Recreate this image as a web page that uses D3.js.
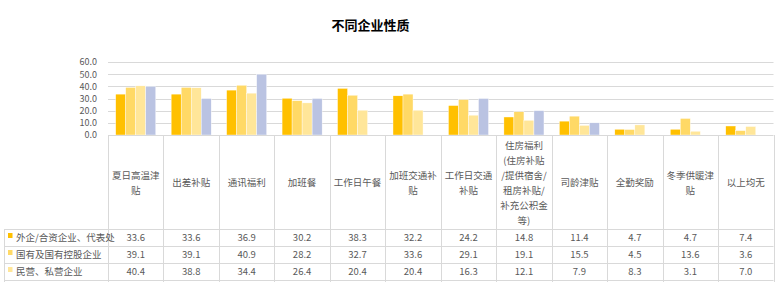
<!DOCTYPE html>
<html><head><meta charset="utf-8">
<script src="https://cdn.jsdelivr.net/npm/d3@7"></script>
<style>body{margin:0;background:#fff;overflow:hidden}svg{display:block}</style>
</head><body>
<script>
const categories = ["夏日高温津\n贴","出差补贴","通讯福利","加班餐","工作日午餐","加班交通补\n贴","工作日交通\n补贴","住房福利\n(住房补贴\n/提供宿舍/\n租房补贴/\n补充公积金\n等)","司龄津贴","全勤奖励","冬季供暖津\n贴","以上均无"];
const seriesNames = ["外企/合资企业、代表处","国有及国有控股企业","民营、私营企业","其他"];
const s1 = [33.6,33.6,36.9,30.2,38.3,32.2,24.2,14.8,11.4,4.7,4.7,7.4];
const s2 = [39.1,39.1,40.9,28.2,32.7,33.6,29.1,19.1,15.5,4.5,13.6,3.6];
const s3 = [40.4,38.8,34.4,26.4,20.4,20.4,16.3,12.1,7.9,8.3,3.1,7.0];
const s4 = [40.0,30.0,50.0,30.0,0,0,30.0,20.0,10.0,0,0,0];
const yTicks = [0,10,20,30,40,50,60];
const colors = ["#FFC000","#FFD966","#FFE699","#BAC3E2"];
const title = "不同企业性质";

const series = [s1,s2,s3,s4];
const W=778,H=282;
const svg=d3.select("body").append("svg").attr("width",W).attr("height",H);
const font="'Microsoft YaHei','Noto Sans CJK SC',sans-serif";
const pLeft=108,pRight=773.5,pTop=62,pBottom=135;
const x=d3.scaleBand().domain(d3.range(categories.length)).range([pLeft,pRight]).padding(0);
const xs=d3.scaleBand().domain(d3.range(4)).range([7.7,x.bandwidth()-7.7]).padding(0);
const y=d3.scaleLinear().domain([0,60]).range([pBottom,pTop]);

svg.append("text").attr("x",370.5).attr("y",29.5).attr("text-anchor","middle")
  .attr("font-family",font).attr("font-weight","bold").attr("font-size",13).attr("fill","#000").text(title);

// gridlines
svg.append("g").selectAll("line").data(yTicks.filter(d=>d>0)).join("line")
  .attr("x1",pLeft).attr("x2",pRight).attr("y1",d=>Math.round(y(d))+0.5).attr("y2",d=>Math.round(y(d))+0.5)
  .attr("stroke","#d9d9d9").attr("stroke-width",1);
// y axis labels
const ya=d3.axisLeft(y).tickValues(yTicks).tickFormat(d3.format(".1f")).tickSize(0).tickPadding(0);
const yg=svg.append("g").attr("transform",`translate(97,0)`).call(ya);
yg.select(".domain").remove();
yg.selectAll("text").attr("font-family",font).attr("font-size",9).attr("fill","#595959");

// bars
series.forEach((s,i)=>{
  svg.append("g").selectAll("rect").data(s).join("rect")
    .attr("x",(d,j)=>x(j)+xs(i)).attr("width",xs.bandwidth())
    .attr("y",d=>y(d)).attr("height",d=>y(0)-y(d))
    .attr("fill",colors[i]).attr("stroke","#fff").attr("stroke-width",0.4);
});

// table
const lc="#d9d9d9";
const rowTops=[229,246,263,280];
const tg=svg.append("g");
tg.append("line").attr("x1",pLeft).attr("x2",pRight).attr("y1",135.5).attr("y2",135.5).attr("stroke",lc);
rowTops.forEach(r=>tg.append("line").attr("x1",4).attr("x2",pRight).attr("y1",r+0.5).attr("y2",r+0.5).attr("stroke",lc));
d3.range(categories.length+1).forEach(i=>{
  const xx=Math.round(pLeft+i*x.bandwidth())+0.5;
  tg.append("line").attr("x1",xx).attr("x2",xx).attr("y1",135).attr("y2",H).attr("stroke",lc);
});
tg.append("line").attr("x1",4.5).attr("x2",4.5).attr("y1",229).attr("y2",H).attr("stroke",lc);

// header labels
categories.forEach((c,i)=>{
  const lines=c.split("\n");
  const lh=15, cy=182.5;
  const t=tg.append("text").attr("font-family",font).attr("font-size",9.5).attr("fill","#595959").attr("text-anchor","middle");
  lines.forEach((l,k)=>{
    t.append("tspan").attr("x",x(i)+x.bandwidth()/2).attr("y",cy+(k-(lines.length-1)/2)*lh+3.5).text(l);
  });
});
// rows (the fourth row lies below the visible frame, as in the reference)
series.forEach((s,i)=>{
  const rt=rowTops[i];
  if (rt+6>H) return;
  tg.append("rect").attr("x",8).attr("y",rt+4).attr("width",4.5).attr("height",5).attr("fill",colors[i]);
  tg.append("text").attr("x",16).attr("y",rt+12).attr("font-family",font).attr("font-size",9.5).attr("fill","#595959").text(seriesNames[i]);
  tg.selectAll(null).data(s).join("text").attr("x",(d,j)=>x(j)+x.bandwidth()/2).attr("y",rt+12)
    .attr("text-anchor","middle").attr("font-family",font).attr("font-size",9.5).attr("fill","#595959")
    .text(d=>d3.format(".1f")(d));
});
</script>
</body></html>
